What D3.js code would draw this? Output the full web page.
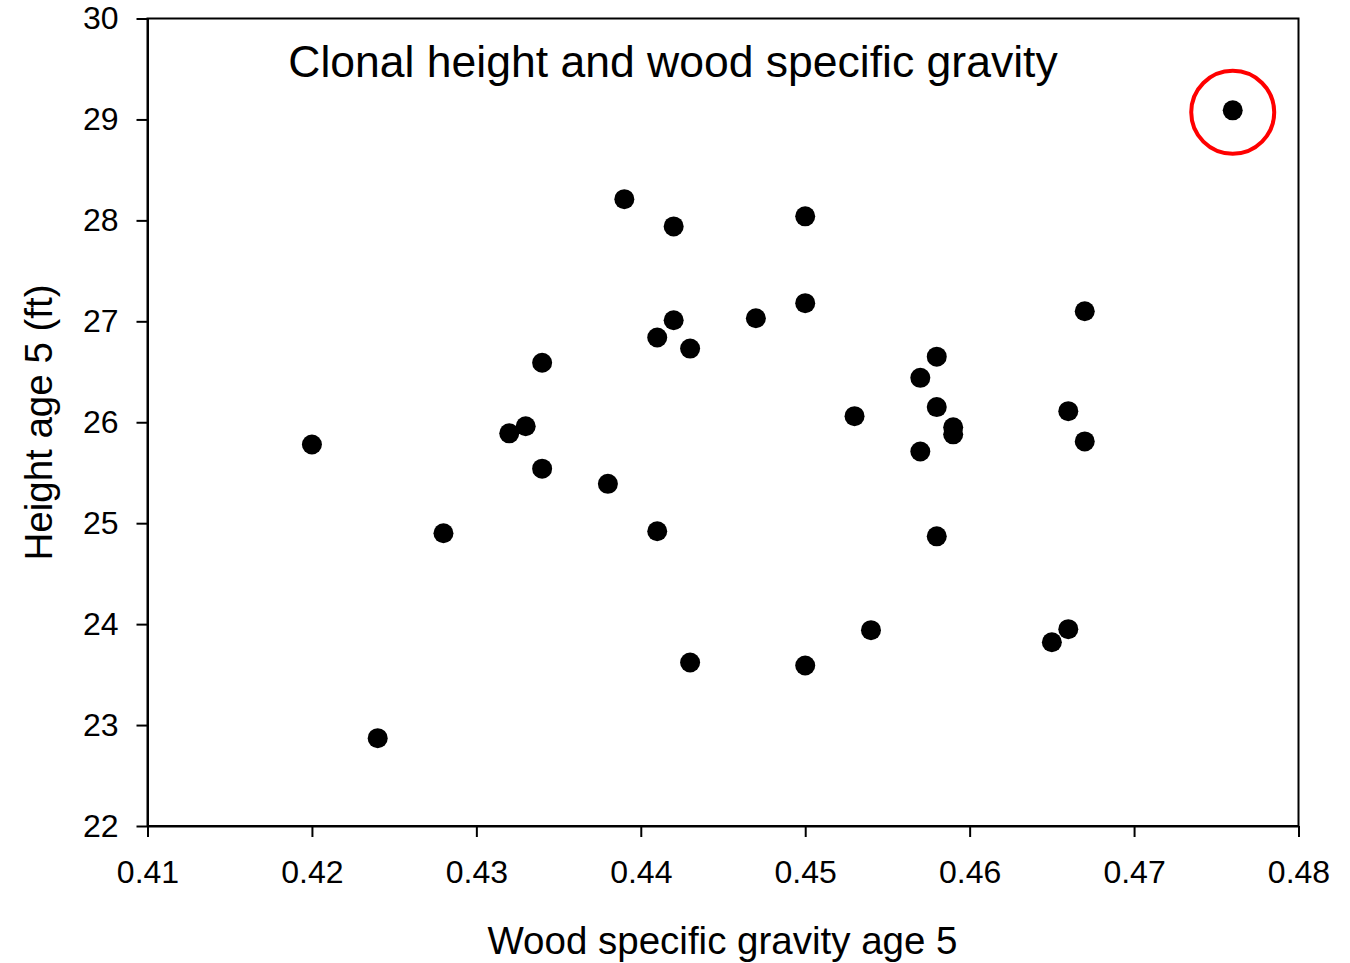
<!DOCTYPE html>
<html>
<head>
<meta charset="utf-8">
<script src="https://cdn.jsdelivr.net/npm/d3@7"></script>
<style>
  html, body { margin: 0; padding: 0; background: #fff; }
  svg { display: block; font-family: "Liberation Sans", Arial, sans-serif; }
</style>
</head>
<body>
<svg id="chart" width="1350" height="963"></svg>
<script>
// Wood specific gravity (x) and height at age 5 (y) for each clone
const gravity = [0.420, 0.424, 0.428, 0.432, 0.433, 0.434, 0.434, 0.438, 0.439, 0.441,
                 0.441, 0.442, 0.442, 0.443, 0.443, 0.447, 0.450, 0.450, 0.450, 0.453,
                 0.454, 0.457, 0.457, 0.458, 0.458, 0.458, 0.459, 0.459, 0.465, 0.466,
                 0.466, 0.467, 0.467, 0.476];
const height  = [25.78, 22.87, 24.90, 25.89, 25.96, 26.59, 25.54, 25.39, 28.21, 26.84,
                 24.92, 27.94, 27.01, 26.73, 23.62, 27.03, 28.04, 27.18, 23.59, 26.06,
                 23.94, 26.44, 25.71, 26.65, 26.15, 24.87, 25.95, 25.88, 23.82, 26.11,
                 23.95, 27.10, 25.81, 29.09];
// Index of the clone that is circled
const highlighted = [33];

const xTicks = [0.41, 0.42, 0.43, 0.44, 0.45, 0.46, 0.47, 0.48];
const yTicks = [22, 23, 24, 25, 26, 27, 28, 29, 30];

const title = "Clonal height and wood specific gravity";
const xTitle = "Wood specific gravity age 5";
const yTitle = "Height age 5 (ft)";

const plotLeft = 147.5, plotRight = 1298.5, plotTop = 18.5, plotBottom = 826;

const svg = d3.select("#chart");
const x = d3.scaleLinear().domain([0.41, 0.48]).range([plotLeft, plotRight]);
const y = d3.scaleLinear().domain([22, 30]).range([plotBottom, plotTop]);

// frame (top and right borders)
svg.append("rect")
  .attr("x", plotLeft).attr("y", plotTop)
  .attr("width", plotRight - plotLeft).attr("height", plotBottom - plotTop)
  .attr("fill", "none").attr("stroke", "#000").attr("stroke-width", 2);

const xAxis = svg.append("g")
  .attr("transform", `translate(0,${plotBottom})`)
  .call(d3.axisBottom(x).tickValues(xTicks).tickFormat(d3.format(".2f")).tickSizeInner(11).tickSizeOuter(0).tickPadding(23));
const yAxis = svg.append("g")
  .attr("transform", `translate(${plotLeft},0)`)
  .call(d3.axisLeft(y).tickValues(yTicks).tickFormat(d3.format("d")).tickSizeInner(11).tickSizeOuter(0).tickPadding(18));

[xAxis, yAxis].forEach(g => {
  g.select(".domain").attr("stroke-width", 2);
  g.selectAll(".tick line").attr("stroke-width", 2);
  g.selectAll(".tick text")
    .attr("font-size", 32)
    .attr("fill", "#000")
    .attr("font-family", "Liberation Sans, Arial, sans-serif");
});

// points
svg.append("g").selectAll("circle")
  .data(gravity.map((g, i) => ({ g, h: height[i] })))
  .join("circle")
  .attr("cx", d => x(d.g))
  .attr("cy", d => y(d.h))
  .attr("r", 10)
  .attr("fill", "#000");

// red ring around the highlighted clone
svg.append("g").selectAll("circle")
  .data(highlighted)
  .join("circle")
  .attr("cx", i => x(gravity[i]))
  .attr("cy", i => y(height[i]) + 2)
  .attr("r", 41.5)
  .attr("fill", "none")
  .attr("stroke", "#ff0000")
  .attr("stroke-width", 4);

svg.append("text")
  .attr("x", 673).attr("y", 77)
  .attr("text-anchor", "middle")
  .attr("font-size", 44.5)
  .text(title);

svg.append("text")
  .attr("x", 722.5).attr("y", 954)
  .attr("text-anchor", "middle")
  .attr("font-size", 38.5)
  .text(xTitle);

svg.append("text")
  .attr("transform", `translate(52,422.5) rotate(-90)`)
  .attr("text-anchor", "middle")
  .attr("font-size", 38.5)
  .text(yTitle);
</script>
</body>
</html>
